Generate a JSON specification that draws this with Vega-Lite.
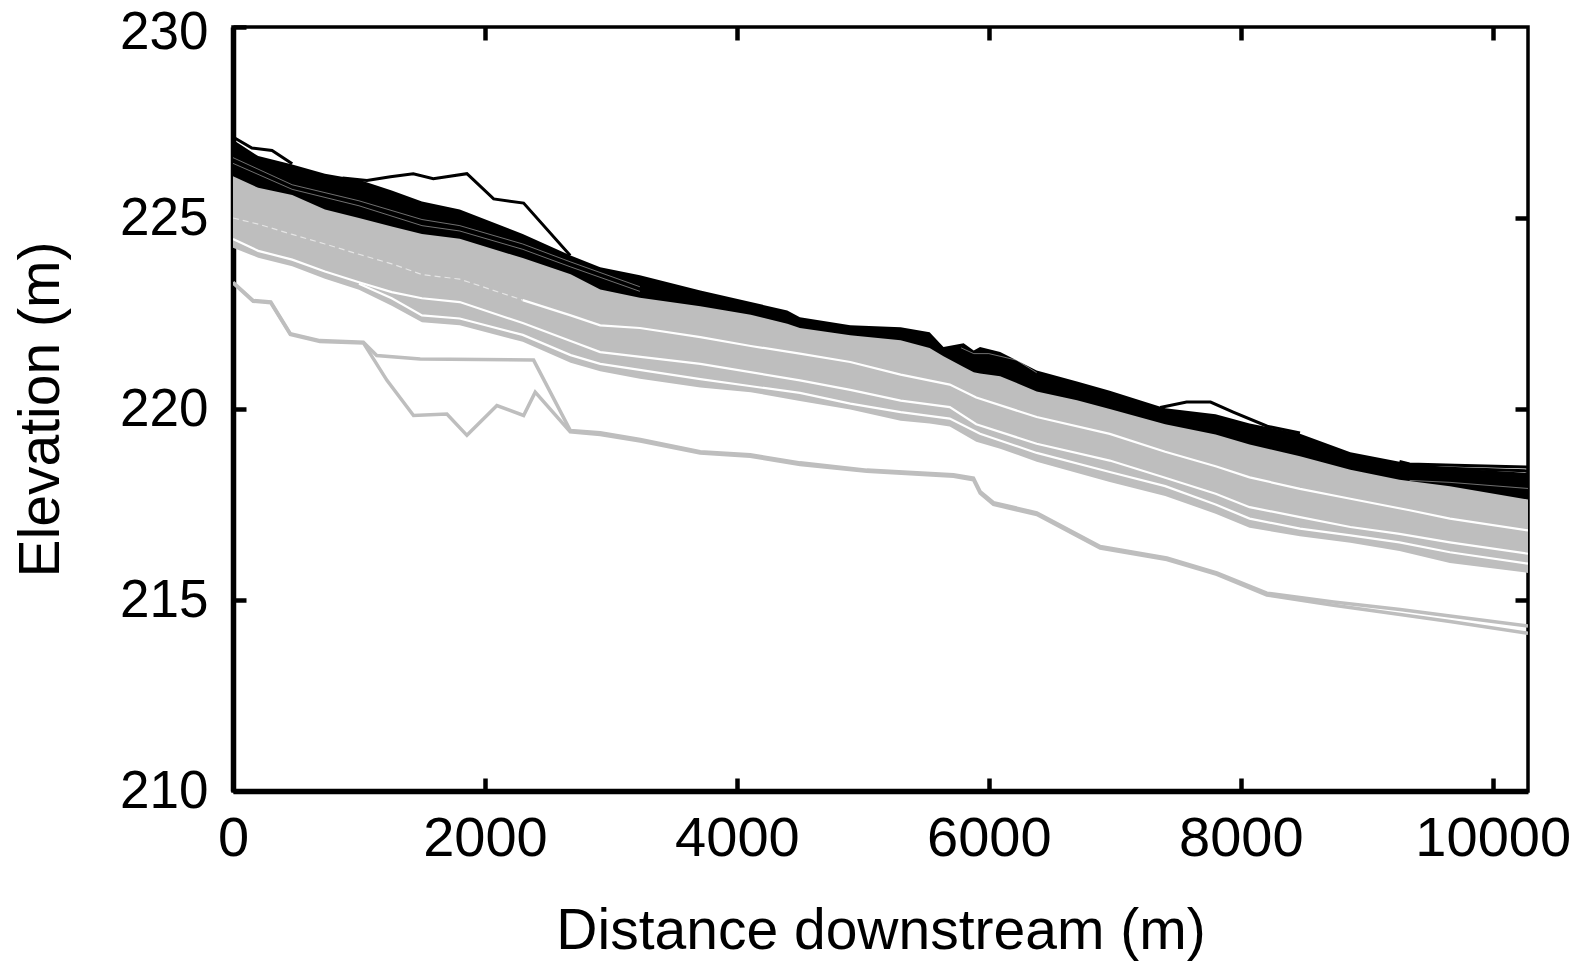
{
  "$schema": "https://vega.github.io/schema/vega-lite/v6.json",
  "width": 1295,
  "height": 764,
  "autosize": "none",
  "padding": {"left": 233, "top": 27, "right": 58, "bottom": 170},
  "background": "white",
  "config": {
    "view": {"stroke": "#000000", "strokeWidth": 3.5},
    "font": "Liberation Sans",
    "axis": {
      "labelFont": "Liberation Sans", "titleFont": "Liberation Sans",
      "labelFontSize": 56, "titleFontSize": 57, "labelColor": "#000000", "titleColor": "#000000",
      "titleFontWeight": "normal", "domainColor": "#000000", "tickColor": "#000000",
      "grid": false, "zindex": 1, "labelFlush": false, "labelOverlap": false
    }
  },
  "datasets": {
    "grayband": [
      {"x": 0, "lo": 224.22, "hi": 226.16},
      {"x": 200, "lo": 223.96, "hi": 225.86},
      {"x": 470, "lo": 223.74, "hi": 225.67},
      {"x": 730, "lo": 223.41, "hi": 225.29},
      {"x": 1000, "lo": 223.12, "hi": 225.07},
      {"x": 1260, "lo": 222.70, "hi": 224.85},
      {"x": 1500, "lo": 222.27, "hi": 224.65},
      {"x": 1800, "lo": 222.19, "hi": 224.53},
      {"x": 2300, "lo": 221.76, "hi": 224.02},
      {"x": 2680, "lo": 221.21, "hi": 223.60},
      {"x": 2915, "lo": 220.99, "hi": 223.20},
      {"x": 3230, "lo": 220.79, "hi": 222.98},
      {"x": 3710, "lo": 220.56, "hi": 222.76},
      {"x": 4110, "lo": 220.44, "hi": 222.54},
      {"x": 4500, "lo": 220.21, "hi": 222.19},
      {"x": 4900, "lo": 219.99, "hi": 222.00},
      {"x": 5300, "lo": 219.69, "hi": 221.87},
      {"x": 5530, "lo": 219.62, "hi": 221.67},
      {"x": 5690, "lo": 219.54, "hi": 221.36},
      {"x": 5900, "lo": 219.14, "hi": 221.01},
      {"x": 6090, "lo": 218.96, "hi": 220.93},
      {"x": 6380, "lo": 218.62, "hi": 220.53},
      {"x": 6960, "lo": 218.09, "hi": 220.07},
      {"x": 7400, "lo": 217.72, "hi": 219.67},
      {"x": 7800, "lo": 217.26, "hi": 219.40},
      {"x": 8070, "lo": 216.89, "hi": 219.14},
      {"x": 8470, "lo": 216.67, "hi": 218.83},
      {"x": 8870, "lo": 216.50, "hi": 218.48},
      {"x": 9260, "lo": 216.28, "hi": 218.22},
      {"x": 9660, "lo": 215.97, "hi": 218.05},
      {"x": 10280, "lo": 215.71, "hi": 217.70}
    ],
    "blackband": [
      {"x": 0, "lo": 226.09, "hi": 227.05},
      {"x": 200, "lo": 225.79, "hi": 226.62},
      {"x": 470, "lo": 225.60, "hi": 226.40},
      {"x": 730, "lo": 225.22, "hi": 226.16},
      {"x": 1000, "lo": 225.00, "hi": 226.00},
      {"x": 1260, "lo": 224.78, "hi": 225.72},
      {"x": 1500, "lo": 224.58, "hi": 225.43},
      {"x": 1800, "lo": 224.46, "hi": 225.22},
      {"x": 2300, "lo": 223.95, "hi": 224.58},
      {"x": 2680, "lo": 223.53, "hi": 224.02},
      {"x": 2915, "lo": 223.13, "hi": 223.71},
      {"x": 3230, "lo": 222.91, "hi": 223.50},
      {"x": 3710, "lo": 222.69, "hi": 223.10},
      {"x": 4110, "lo": 222.47, "hi": 222.80},
      {"x": 4400, "lo": 222.23, "hi": 222.58},
      {"x": 4500, "lo": 222.12, "hi": 222.40},
      {"x": 4900, "lo": 221.93, "hi": 222.19},
      {"x": 5300, "lo": 221.80, "hi": 222.14},
      {"x": 5530, "lo": 221.60, "hi": 222.01},
      {"x": 5640, "lo": 221.38, "hi": 221.62},
      {"x": 5800, "lo": 221.10, "hi": 221.72},
      {"x": 5880, "lo": 220.96, "hi": 221.53},
      {"x": 5930, "lo": 220.93, "hi": 221.62},
      {"x": 6090, "lo": 220.86, "hi": 221.49},
      {"x": 6380, "lo": 220.46, "hi": 221.01},
      {"x": 6700, "lo": 220.23, "hi": 220.72},
      {"x": 6960, "lo": 220.00, "hi": 220.48},
      {"x": 7400, "lo": 219.60, "hi": 220.02},
      {"x": 7800, "lo": 219.33, "hi": 219.86},
      {"x": 8070, "lo": 219.07, "hi": 219.62},
      {"x": 8470, "lo": 218.76, "hi": 219.35},
      {"x": 8870, "lo": 218.41, "hi": 218.87},
      {"x": 9260, "lo": 218.15, "hi": 218.62},
      {"x": 9660, "lo": 217.98, "hi": 218.45},
      {"x": 10280, "lo": 217.63, "hi": 218.33}
    ],
    "lines": [
      {"id": "GO1", "group": "lower", "x": 0, "y": 223.32},
      {"id": "GO1", "group": "lower", "x": 160, "y": 222.84},
      {"id": "GO1", "group": "lower", "x": 300, "y": 222.80},
      {"id": "GO1", "group": "lower", "x": 455, "y": 221.97},
      {"id": "GO1", "group": "lower", "x": 690, "y": 221.79},
      {"id": "GO1", "group": "lower", "x": 1035, "y": 221.75},
      {"id": "GO1", "group": "lower", "x": 1141, "y": 221.40},
      {"id": "GO1", "group": "lower", "x": 1486, "y": 221.31},
      {"id": "GO1", "group": "lower", "x": 2386, "y": 221.28},
      {"id": "GO1", "group": "lower", "x": 2677, "y": 219.44},
      {"id": "GO1", "group": "lower", "x": 2915, "y": 219.38},
      {"id": "GO1", "group": "lower", "x": 3233, "y": 219.20},
      {"id": "GO1", "group": "lower", "x": 3709, "y": 218.88},
      {"id": "GO1", "group": "lower", "x": 4106, "y": 218.80},
      {"id": "GO1", "group": "lower", "x": 4502, "y": 218.59},
      {"id": "GO1", "group": "lower", "x": 5031, "y": 218.40},
      {"id": "GO1", "group": "lower", "x": 5719, "y": 218.28},
      {"id": "GO1", "group": "lower", "x": 5878, "y": 218.19},
      {"id": "GO1", "group": "lower", "x": 5931, "y": 217.84},
      {"id": "GO1", "group": "lower", "x": 6037, "y": 217.55},
      {"id": "GO1", "group": "lower", "x": 6381, "y": 217.28},
      {"id": "GO1", "group": "lower", "x": 6884, "y": 216.40},
      {"id": "GO1", "group": "lower", "x": 7413, "y": 216.10},
      {"id": "GO1", "group": "lower", "x": 7810, "y": 215.71},
      {"id": "GO1", "group": "lower", "x": 8207, "y": 215.18},
      {"id": "GO1", "group": "lower", "x": 8737, "y": 214.95},
      {"id": "GO1", "group": "lower", "x": 9265, "y": 214.75},
      {"id": "GO1", "group": "lower", "x": 9661, "y": 214.58},
      {"id": "GO1", "group": "lower", "x": 10280, "y": 214.32},
      {"id": "GO2", "group": "lower", "x": 0, "y": 223.30},
      {"id": "GO2", "group": "lower", "x": 160, "y": 222.82},
      {"id": "GO2", "group": "lower", "x": 300, "y": 222.78},
      {"id": "GO2", "group": "lower", "x": 455, "y": 221.95},
      {"id": "GO2", "group": "lower", "x": 690, "y": 221.77},
      {"id": "GO2", "group": "lower", "x": 1035, "y": 221.73},
      {"id": "GO2", "group": "lower", "x": 1222, "y": 220.75},
      {"id": "GO2", "group": "lower", "x": 1433, "y": 219.83},
      {"id": "GO2", "group": "lower", "x": 1698, "y": 219.87},
      {"id": "GO2", "group": "lower", "x": 1857, "y": 219.31},
      {"id": "GO2", "group": "lower", "x": 2095, "y": 220.09},
      {"id": "GO2", "group": "lower", "x": 2307, "y": 219.83},
      {"id": "GO2", "group": "lower", "x": 2399, "y": 220.44},
      {"id": "GO2", "group": "lower", "x": 2677, "y": 219.40},
      {"id": "GO2", "group": "lower", "x": 2915, "y": 219.33},
      {"id": "GO2", "group": "lower", "x": 3233, "y": 219.16},
      {"id": "GO2", "group": "lower", "x": 3709, "y": 218.85},
      {"id": "GO2", "group": "lower", "x": 4106, "y": 218.76},
      {"id": "GO2", "group": "lower", "x": 4502, "y": 218.55},
      {"id": "GO2", "group": "lower", "x": 5031, "y": 218.37},
      {"id": "GO2", "group": "lower", "x": 5719, "y": 218.24},
      {"id": "GO2", "group": "lower", "x": 5878, "y": 218.15},
      {"id": "GO2", "group": "lower", "x": 5931, "y": 217.80},
      {"id": "GO2", "group": "lower", "x": 6037, "y": 217.50},
      {"id": "GO2", "group": "lower", "x": 6381, "y": 217.24},
      {"id": "GO2", "group": "lower", "x": 6884, "y": 216.36},
      {"id": "GO2", "group": "lower", "x": 7413, "y": 216.06},
      {"id": "GO2", "group": "lower", "x": 7810, "y": 215.67},
      {"id": "GO2", "group": "lower", "x": 8207, "y": 215.13},
      {"id": "GO2", "group": "lower", "x": 8737, "y": 214.86},
      {"id": "GO2", "group": "lower", "x": 9265, "y": 214.62},
      {"id": "GO2", "group": "lower", "x": 9661, "y": 214.44},
      {"id": "GO2", "group": "lower", "x": 10280, "y": 214.13},

      {"id": "W1a", "group": "faint gap", "x": 0, "y": 225.00},
      {"id": "W1a", "group": "faint gap", "x": 200, "y": 224.84},
      {"id": "W1a", "group": "faint gap", "x": 470, "y": 224.57},
      {"id": "W1a", "group": "faint gap", "x": 730, "y": 224.32},
      {"id": "W1a", "group": "faint gap", "x": 1000, "y": 224.05},
      {"id": "W1a", "group": "faint gap", "x": 1260, "y": 223.80},
      {"id": "W1a", "group": "faint gap", "x": 1500, "y": 223.52},
      {"id": "W1a", "group": "faint gap", "x": 1800, "y": 223.40},
      {"id": "W1a", "group": "faint gap", "x": 2300, "y": 222.85},
      {"id": "W1", "group": "gap", "x": 2300, "y": 222.85},
      {"id": "W1", "group": "gap", "x": 2680, "y": 222.45},
      {"id": "W1", "group": "gap", "x": 2915, "y": 222.19},
      {"id": "W1", "group": "gap", "x": 3230, "y": 222.12},
      {"id": "W1", "group": "gap", "x": 3710, "y": 221.88},
      {"id": "W1", "group": "gap", "x": 4110, "y": 221.65},
      {"id": "W1", "group": "gap", "x": 4500, "y": 221.45},
      {"id": "W1", "group": "gap", "x": 4900, "y": 221.23},
      {"id": "W1", "group": "gap", "x": 5300, "y": 220.90},
      {"id": "W1", "group": "gap", "x": 5690, "y": 220.64},
      {"id": "W1", "group": "gap", "x": 5900, "y": 220.30},
      {"id": "W1", "group": "gap", "x": 6380, "y": 219.79},
      {"id": "W1", "group": "gap", "x": 6960, "y": 219.35},
      {"id": "W1", "group": "gap", "x": 7400, "y": 218.88},
      {"id": "W1", "group": "gap", "x": 7800, "y": 218.50},
      {"id": "W1", "group": "gap", "x": 8070, "y": 218.21},
      {"id": "W1", "group": "gap", "x": 8470, "y": 217.91},
      {"id": "W1", "group": "gap", "x": 8870, "y": 217.65},
      {"id": "W1", "group": "gap", "x": 9340, "y": 217.35},
      {"id": "W1", "group": "gap", "x": 9660, "y": 217.13},
      {"id": "W1", "group": "gap", "x": 10280, "y": 216.82},

      {"id": "W2", "group": "gap", "x": 0, "y": 224.45},
      {"id": "W2", "group": "gap", "x": 200, "y": 224.14},
      {"id": "W2", "group": "gap", "x": 470, "y": 223.91},
      {"id": "W2", "group": "gap", "x": 730, "y": 223.60},
      {"id": "W2", "group": "gap", "x": 1000, "y": 223.32},
      {"id": "W2", "group": "gap", "x": 1260, "y": 223.06},
      {"id": "W2", "group": "gap", "x": 1500, "y": 222.90},
      {"id": "W2", "group": "gap", "x": 1800, "y": 222.80},
      {"id": "W2", "group": "gap", "x": 2300, "y": 222.25},
      {"id": "W2", "group": "gap", "x": 2680, "y": 221.78},
      {"id": "W2", "group": "gap", "x": 2915, "y": 221.49},
      {"id": "W2", "group": "gap", "x": 3710, "y": 221.18},
      {"id": "W2", "group": "gap", "x": 4500, "y": 220.75},
      {"id": "W2", "group": "gap", "x": 4900, "y": 220.50},
      {"id": "W2", "group": "gap", "x": 5300, "y": 220.22},
      {"id": "W2", "group": "gap", "x": 5690, "y": 220.05},
      {"id": "W2", "group": "gap", "x": 5900, "y": 219.60},
      {"id": "W2", "group": "gap", "x": 6380, "y": 219.09},
      {"id": "W2", "group": "gap", "x": 6960, "y": 218.65},
      {"id": "W2", "group": "gap", "x": 7400, "y": 218.20},
      {"id": "W2", "group": "gap", "x": 7800, "y": 217.78},
      {"id": "W2", "group": "gap", "x": 8070, "y": 217.43},
      {"id": "W2", "group": "gap", "x": 8470, "y": 217.17},
      {"id": "W2", "group": "gap", "x": 8870, "y": 216.91},
      {"id": "W2", "group": "gap", "x": 9260, "y": 216.73},
      {"id": "W2", "group": "gap", "x": 9660, "y": 216.51},
      {"id": "W2", "group": "gap", "x": 10280, "y": 216.21},

      {"id": "W3", "group": "gap", "x": 1000, "y": 223.28},
      {"id": "W3", "group": "gap", "x": 1260, "y": 222.90},
      {"id": "W3", "group": "gap", "x": 1500, "y": 222.45},
      {"id": "W3", "group": "gap", "x": 1800, "y": 222.37},
      {"id": "W3", "group": "gap", "x": 2300, "y": 221.94},
      {"id": "W3", "group": "gap", "x": 2680, "y": 221.41},
      {"id": "W3", "group": "gap", "x": 2915, "y": 221.18},
      {"id": "W3", "group": "gap", "x": 3710, "y": 220.78},
      {"id": "W3", "group": "gap", "x": 4500, "y": 220.42},
      {"id": "W3", "group": "gap", "x": 4900, "y": 220.14},
      {"id": "W3", "group": "gap", "x": 5300, "y": 219.92},
      {"id": "W3", "group": "gap", "x": 5690, "y": 219.75},
      {"id": "W3", "group": "gap", "x": 5930, "y": 219.35},
      {"id": "W3", "group": "gap", "x": 6380, "y": 218.85},
      {"id": "W3", "group": "gap", "x": 6960, "y": 218.35},
      {"id": "W3", "group": "gap", "x": 7400, "y": 217.98},
      {"id": "W3", "group": "gap", "x": 7800, "y": 217.50},
      {"id": "W3", "group": "gap", "x": 8070, "y": 217.13},
      {"id": "W3", "group": "gap", "x": 8470, "y": 216.87},
      {"id": "W3", "group": "gap", "x": 8870, "y": 216.69},
      {"id": "W3", "group": "gap", "x": 9260, "y": 216.51},
      {"id": "W3", "group": "gap", "x": 9660, "y": 216.25},
      {"id": "W3", "group": "gap", "x": 10280, "y": 215.95},

      {"id": "BL1", "group": "upper", "x": 870, "y": 226.05},
      {"id": "BL1", "group": "upper", "x": 1063, "y": 225.98},
      {"id": "BL1", "group": "upper", "x": 1250, "y": 226.08},
      {"id": "BL1", "group": "upper", "x": 1431, "y": 226.16},
      {"id": "BL1", "group": "upper", "x": 1590, "y": 226.03},
      {"id": "BL1", "group": "upper", "x": 1857, "y": 226.16},
      {"id": "BL1", "group": "upper", "x": 2069, "y": 225.50},
      {"id": "BL1", "group": "upper", "x": 2307, "y": 225.39},
      {"id": "BL1", "group": "upper", "x": 2677, "y": 224.02},
      {"id": "BL2", "group": "upper", "x": 0, "y": 227.12},
      {"id": "BL2", "group": "upper", "x": 150, "y": 226.83},
      {"id": "BL2", "group": "upper", "x": 310, "y": 226.77},
      {"id": "BL2", "group": "upper", "x": 470, "y": 226.42},
      {"id": "BL3", "group": "upper", "x": 7360, "y": 220.04},
      {"id": "BL3", "group": "upper", "x": 7570, "y": 220.18},
      {"id": "BL3", "group": "upper", "x": 7760, "y": 220.18},
      {"id": "BL3", "group": "upper", "x": 7940, "y": 219.92},
      {"id": "BL3", "group": "upper", "x": 8210, "y": 219.55},
      {"id": "BL3", "group": "upper", "x": 8470, "y": 219.37},
      {"id": "BL4", "group": "upper", "x": 9260, "y": 218.63},
      {"id": "BL4", "group": "upper", "x": 9340, "y": 218.56},
      {"id": "BL4", "group": "upper", "x": 9700, "y": 218.53},
      {"id": "BL4", "group": "upper", "x": 10280, "y": 218.48},
      {"id": "BL5", "group": "upper", "x": 9340, "y": 218.50},
      {"id": "BL5", "group": "upper", "x": 9700, "y": 218.44},
      {"id": "BL5", "group": "upper", "x": 10280, "y": 218.38},

      {"id": "WB1", "group": "upper gap", "x": 0, "y": 226.58},
      {"id": "WB1", "group": "upper gap", "x": 470, "y": 225.87},
      {"id": "WB1", "group": "upper gap", "x": 1000, "y": 225.45},
      {"id": "WB1", "group": "upper gap", "x": 1500, "y": 224.96},
      {"id": "WB1", "group": "upper gap", "x": 1800, "y": 224.80},
      {"id": "WB1", "group": "upper gap", "x": 2300, "y": 224.32},
      {"id": "WB1", "group": "upper gap", "x": 2680, "y": 223.85},
      {"id": "WB1", "group": "upper gap", "x": 3230, "y": 223.20},
      {"id": "WB2", "group": "upper gap", "x": 0, "y": 226.43},
      {"id": "WB2", "group": "upper gap", "x": 470, "y": 225.75},
      {"id": "WB2", "group": "upper gap", "x": 1000, "y": 225.32},
      {"id": "WB2", "group": "upper gap", "x": 1500, "y": 224.80},
      {"id": "WB2", "group": "upper gap", "x": 1800, "y": 224.66},
      {"id": "WB2", "group": "upper gap", "x": 2300, "y": 224.18},
      {"id": "WB2", "group": "upper gap", "x": 2680, "y": 223.72},
      {"id": "WB2", "group": "upper gap", "x": 3230, "y": 223.08},
      {"id": "WB3", "group": "upper gap", "x": 9340, "y": 218.13},
      {"id": "WB3", "group": "upper gap", "x": 9660, "y": 218.08},
      {"id": "WB3", "group": "upper gap", "x": 10280, "y": 217.92},
      {"id": "WB4", "group": "upper gap", "x": 5780, "y": 221.60},
      {"id": "WB4", "group": "upper gap", "x": 5880, "y": 221.45},
      {"id": "WB4", "group": "upper gap", "x": 6000, "y": 221.45},
      {"id": "WB4", "group": "upper gap", "x": 6220, "y": 221.28},
      {"id": "WB4", "group": "upper gap", "x": 6380, "y": 220.95}
    ]
  },
  "layer": [
    {
      "data": {"name": "grayband"},
      "mark": {"type": "area", "color": "#bebebe", "clip": true},
      "encoding": {
        "x": {"field": "x", "type": "quantitative",
          "scale": {"domain": [0, 10280], "nice": false, "zero": false},
          "axis": {"orient": "bottom", "values": [0, 2000, 4000, 6000, 8000, 10000], "format": "d",
            "domainWidth": 5.5, "tickSize": -13, "tickWidth": 4.5, "labelPadding": 33,
            "title": "Distance downstream (m)", "titleY": 157, "titleBaseline": "alphabetic"}},
        "y": {"field": "lo", "type": "quantitative",
          "scale": {"domain": [210, 230], "nice": false, "zero": false},
          "axis": {"orient": "left", "values": [210, 215, 220, 225, 230], "format": "d",
            "domainWidth": 5.5, "tickSize": -13, "tickWidth": 4.5, "labelPadding": 38, "labelFontSize": 53,
            "labelOffset": {"condition": {"test": "datum.value === 230", "value": 5}, "value": 0},
            "title": "Elevation (m)", "titleX": -175, "titleBaseline": "alphabetic"}},
        "y2": {"field": "hi"}
      }
    },
    {
      "data": {"name": "lines"},
      "transform": [{"filter": "datum.group === 'lower'"}],
      "mark": {"type": "line", "color": "#bebebe", "strokeWidth": 3.5, "clip": true},
      "encoding": {
        "x": {"field": "x", "type": "quantitative", "axis": null},
        "y": {"field": "y", "type": "quantitative", "axis": null},
        "detail": {"field": "id"}
      }
    },
    {
      "data": {"name": "lines"},
      "transform": [{"filter": "datum.group === 'gap'"}],
      "mark": {"type": "line", "color": "#ffffff", "strokeWidth": 2.2, "clip": true},
      "encoding": {
        "x": {"field": "x", "type": "quantitative", "axis": null},
        "y": {"field": "y", "type": "quantitative", "axis": null},
        "detail": {"field": "id"}
      }
    },
    {
      "data": {"name": "lines"},
      "transform": [{"filter": "datum.group === 'faint gap'"}],
      "mark": {"type": "line", "color": "#ffffff", "strokeWidth": 1.2, "opacity": 0.6, "strokeDash": [6, 4], "clip": true},
      "encoding": {
        "x": {"field": "x", "type": "quantitative", "axis": null},
        "y": {"field": "y", "type": "quantitative", "axis": null},
        "detail": {"field": "id"}
      }
    },
    {
      "data": {"name": "blackband"},
      "mark": {"type": "area", "color": "#000000", "clip": true},
      "encoding": {
        "x": {"field": "x", "type": "quantitative", "axis": null},
        "y": {"field": "lo", "type": "quantitative", "axis": null},
        "y2": {"field": "hi"}
      }
    },
    {
      "data": {"name": "lines"},
      "transform": [{"filter": "datum.group === 'upper'"}],
      "mark": {"type": "line", "color": "#000000", "strokeWidth": 3, "clip": true},
      "encoding": {
        "x": {"field": "x", "type": "quantitative", "axis": null},
        "y": {"field": "y", "type": "quantitative", "axis": null},
        "detail": {"field": "id"}
      }
    },
    {
      "data": {"name": "lines"},
      "transform": [{"filter": "datum.group === 'upper gap'"}],
      "mark": {"type": "line", "color": "#ffffff", "strokeWidth": 0.8, "opacity": 0.55, "clip": true},
      "encoding": {
        "x": {"field": "x", "type": "quantitative", "axis": null},
        "y": {"field": "y", "type": "quantitative", "axis": null},
        "detail": {"field": "id"}
      }
    },
    {
      "data": {"name": "blackband"},
      "mark": {"type": "line", "opacity": 0},
      "encoding": {
        "x": {"field": "x", "type": "quantitative",
          "axis": {"orient": "top", "values": [2000, 4000, 6000, 8000, 10000], "labels": false, "domain": false,
            "tickSize": -13, "tickWidth": 4.5, "title": null}},
        "y": {"field": "hi", "type": "quantitative",
          "axis": {"orient": "right", "values": [215, 220, 225], "labels": false, "domain": false,
            "tickSize": -13, "tickWidth": 4.5, "title": null}}
      }
    }
  ],
  "resolve": {"axis": {"x": "independent", "y": "independent"}}
}
